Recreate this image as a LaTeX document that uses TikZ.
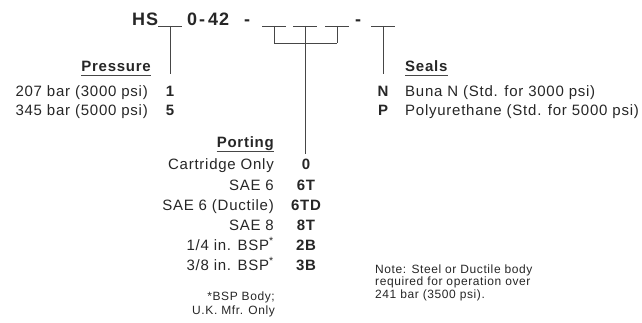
\documentclass[tikz,border=0pt]{standalone}
\usepackage{fontspec}
\setmainfont{Liberation Sans}[LetterSpace=5]
\definecolor{myInk}{RGB}{38, 38, 38}
\definecolor{myLine}{RGB}{70, 70, 70}

\begin{document}
\begin{tikzpicture}[x=1pt, y=-1pt,
		ttl/.style={inner sep=0pt, font=\fontsize{18}{20}\selectfont\bfseries, text=myInk},
		txt/.style={inner sep=0pt, font=\fontsize{15}{17}\selectfont, text=myInk},
		code/.style={inner sep=0pt, font=\fontsize{15}{17}\selectfont\bfseries, text=myInk, anchor=base},
		hdr/.style={inner sep=0pt, font=\fontsize{15}{17}\selectfont\bfseries, text=myInk},
		small/.style={inner sep=0pt, font=\fontsize{12}{11}\selectfont, text=myInk, align=left},
		ln/.style={draw=myLine, line width=0.9pt}]
			\useasboundingbox (0,0) rectangle (642,323);

			% part number
			\draw (132,26) node[ttl, anchor=base west] (hs) {HS};
			\draw (187,26) node[ttl, anchor=base west] (n0) {0};
			\draw (199,26) node[ttl, anchor=base west] (d1) {-};
			\draw (208,26) node[ttl, anchor=base west] (n42) {42};
			\draw (244,26) node[ttl, anchor=base west] (d2) {-};
			\draw (355,26) node[ttl, anchor=base west] (d3) {-};

			% blanks
			\coordinate (b1) at (170,26);
			\coordinate (b2) at (274,26);
			\coordinate (b3) at (305,26);
			\coordinate (b4) at (337,26);
			\coordinate (b5) at (383,26);
			\foreach \b in {b1,b2,b3,b4,b5}
				\draw[ln] ([xshift=-12]\b) -- ([xshift=12]\b);

			% pressure
			\draw (151,72) node[hdr, anchor=base east] (pressure) {Pressure};
			\draw (148,97) node[txt, anchor=base east] (p1) {207 bar (3000 psi)};
			\draw (148,116) node[txt, anchor=base east] (p5) {345 bar (5000 psi)};
			\draw (170,97) node[code] (c1) {1};
			\draw (170,116) node[code] (c5) {5};
			\coordinate (pr) at (170,74);

			% seals
			\draw (405,72) node[hdr, anchor=base west] (seals) {Seals};
			\draw (405,97) node[txt, anchor=base west] (sn) {Buna N (Std. for 3000 psi)};
			\draw (405,116) node[txt, anchor=base west] (sp) {Polyurethane (Std. for 5000 psi)};
			\draw (383,97) node[code] (cn) {N};
			\draw (383,116) node[code] (cp) {P};
			\coordinate (se) at (383,74);

			% porting
			\draw (274,148) node[hdr, anchor=base east] (porting) {Porting};
			\foreach \y/\lab/\cd [count=\i] in {170/Cartridge Only/0, 190/SAE 6/6T,
					210/SAE 6 (Ductile)/6TD, 230/SAE 8/8T,
					250/{1/4 in. BSP\textsuperscript{*}}/2B, 270/{3/8 in. BSP\textsuperscript{*}}/3B}
			{
				\draw (274,\y) node[txt, anchor=base east] (pt\i) {\lab};
				\draw (306,\y) node[code] (pc\i) {\cd};
			}
			\coordinate (po) at (305,154);
			\coordinate (j2) at (274,43);
			\coordinate (j4) at (337,43);

			% underlines of the headings
			\foreach \h in {pressure,seals,porting}
				\draw[ln] ([yshift=-3.5pt]\h.base west) -- ([yshift=-3.5pt]\h.base east);

			% notes
			\draw (275,314) node[small, font=\fontsize{12}{14}\selectfont, anchor=base east, align=right] (bsp) {*BSP Body;\\U.K. Mfr. Only};
			\draw (375,298) node[small, anchor=base west] (note) {Note: Steel or Ductile body\\required for operation over\\241 bar (3500 psi).};

			\path[ln]
			(b1) edge (pr)
			(b5) edge (se)
			(b3) edge (po)
			(b2) edge (j2)
			(b4) edge (j4)
			(j2) edge (j4)
			;
		\end{tikzpicture}
\end{document}
